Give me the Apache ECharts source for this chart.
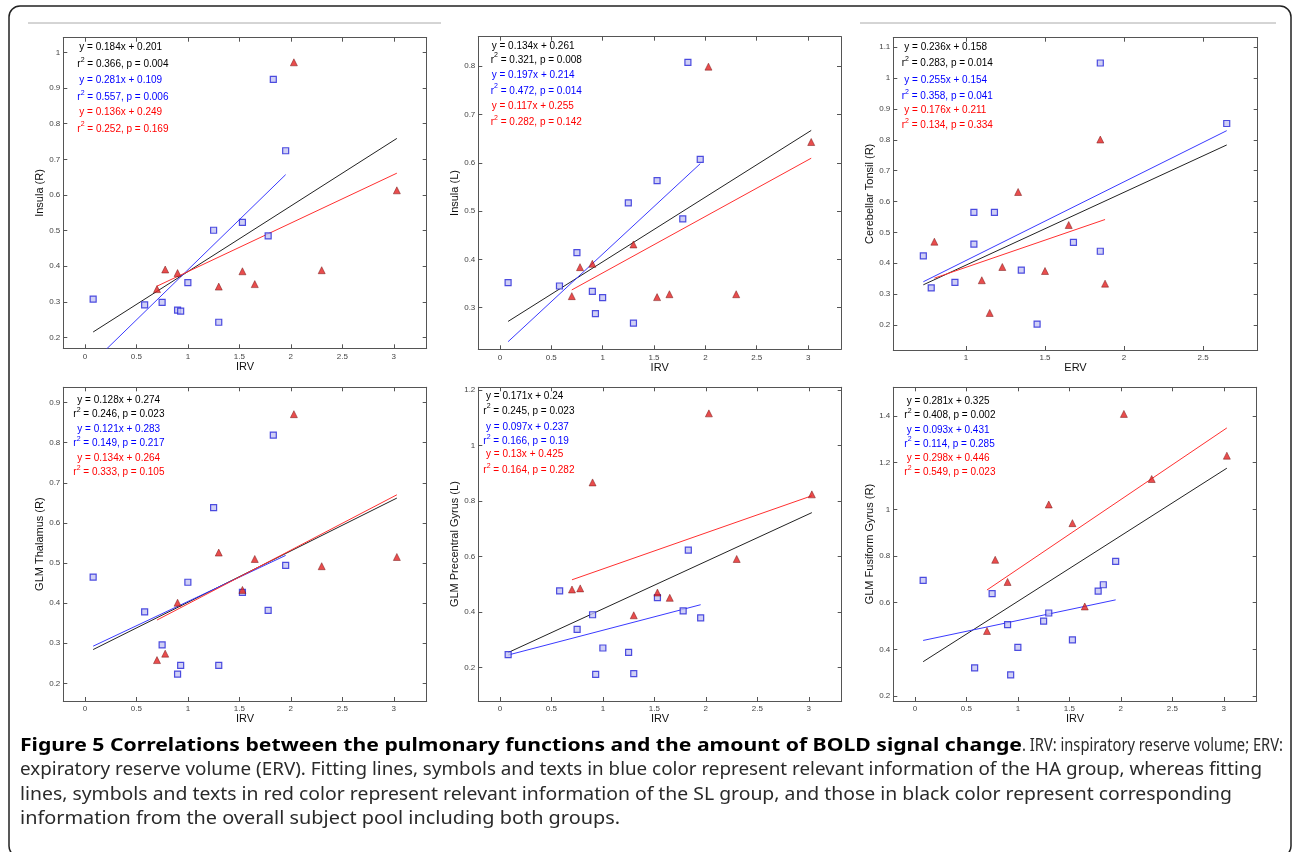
<!DOCTYPE html>
<html><head><meta charset="utf-8">
<script src="https://cdn.jsdelivr.net/npm/echarts@6/dist/echarts.min.js"></script>
<style>html,body{margin:0;padding:0;background:#fff}#c{width:1292px;height:852px}</style>
</head><body><div id="c"></div>
<script>
// ---------------- DATA ----------------
// x values (IRV / ERV) per group
const irvHA = [0.08,0.58,0.75,0.90,0.93,1.00,1.25,1.30,1.53,1.78,1.83,1.95];
const irvSL = [0.70,0.78,0.90,1.30,1.53,1.65,2.03,2.30,3.03];
const ervHA = [0.73,0.78,0.93,1.05,1.05,1.18,1.35,1.45,1.68,1.85,1.85,2.65];
const ervSL = [0.80,1.10,1.15,1.23,1.33,1.50,1.65,1.85,1.88];

// BOLD signal change per region (HA = blue squares, SL = red triangles)
const insulaR_HA = [0.308,0.292,0.299,0.277,0.274,0.354,0.501,0.243,0.523,0.485,0.924,0.724];
const insulaR_SL = [0.336,0.391,0.381,0.343,0.386,0.350,0.972,0.389,0.613];
const insulaL_HA = [0.352,0.345,0.414,0.334,0.288,0.321,0.517,0.268,0.563,0.484,0.808,0.607];
const insulaL_SL = [0.324,0.384,0.391,0.431,0.322,0.328,0.799,0.328,0.643];
const cereb_HA = [0.424,0.320,0.338,0.565,0.462,0.565,0.378,0.203,0.468,1.049,0.439,0.853];
const cereb_SL = [0.470,0.345,0.239,0.388,0.631,0.375,0.524,0.801,0.334];
const thal_HA = [0.465,0.378,0.296,0.223,0.245,0.452,0.638,0.245,0.427,0.382,0.819,0.494];
const thal_SL = [0.258,0.274,0.401,0.526,0.433,0.510,0.871,0.492,0.515];
const precen_HA = [0.246,0.476,0.337,0.390,0.175,0.270,0.254,0.178,0.452,0.404,0.623,0.379];
const precen_SL = [0.481,0.485,0.867,0.388,0.470,0.451,1.116,0.591,0.824];
const fusi_HA = [0.696,0.321,0.639,0.506,0.291,0.409,0.521,0.556,0.441,0.650,0.677,0.777];
const fusi_SL = [0.479,0.784,0.689,1.021,0.941,0.584,1.409,1.130,1.230];

// fit coefficients [slope, intercept] : all, HA, SL
const fitInsulaR = [[0.184,0.201],[0.281,0.109],[0.136,0.249]];
const fitInsulaL = [[0.134,0.261],[0.197,0.214],[0.117,0.255]];
const fitCereb   = [[0.236,0.158],[0.255,0.154],[0.176,0.211]];
const fitThal    = [[0.128,0.274],[0.121,0.283],[0.134,0.264]];
const fitPrecen  = [[0.171,0.24],[0.097,0.237],[0.13,0.425]];
const fitFusi    = [[0.281,0.325],[0.093,0.431],[0.298,0.446]];

// equation / statistics texts : all, HA, SL
const txtInsulaR = [["y = 0.184x + 0.201","0.366","0.004"],["y = 0.281x + 0.109","0.557","0.006"],["y = 0.136x + 0.249","0.252","0.169"]];
const txtInsulaL = [["y = 0.134x + 0.261","0.321","0.008"],["y = 0.197x + 0.214","0.472","0.014"],["y = 0.117x + 0.255","0.282","0.142"]];
const txtCereb   = [["y = 0.236x + 0.158","0.283","0.014"],["y = 0.255x + 0.154","0.358","0.041"],["y = 0.176x + 0.211","0.134","0.334"]];
const txtThal    = [["y = 0.128x + 0.274","0.246","0.023"],["y = 0.121x + 0.283","0.149","0.217"],["y = 0.134x + 0.264","0.333","0.105"]];
const txtPrecen  = [["y = 0.171x + 0.24","0.245","0.023"],["y = 0.097x + 0.237","0.166","0.19"],["y = 0.13x + 0.425","0.164","0.282"]];
const txtFusi    = [["y = 0.281x + 0.325","0.408","0.002"],["y = 0.093x + 0.431","0.114","0.285"],["y = 0.298x + 0.446","0.549","0.023"]];

const xNames = ["IRV","IRV","ERV","IRV","IRV","IRV"];
const yNames = ["Insula (R)","Insula (L)","Cerebellar Tonsil (R)","GLM Thalamus (R)","GLM Precentral Gyrus (L)","GLM Fusiform Gyrus (R)"];

const captionBold = "Figure 5 Correlations between the pulmonary functions and the amount of BOLD signal change";
const captionLines = [
  ". IRV: inspiratory reserve volume; ERV:",
  "expiratory reserve volume (ERV). Fitting lines, symbols and texts in blue color represent relevant information of the HA group, whereas fitting",
  "lines, symbols and texts in red color represent relevant information of the SL group, and those in black color represent corresponding",
  "information from the overall subject pool including both groups."
];

// ---------------- LAYOUT / STYLE ----------------
const panels = [
  {xHA: irvHA, yHA: insulaR_HA, xSL: irvSL, ySL: insulaR_SL, fit: fitInsulaR, txt: txtInsulaR},
  {xHA: irvHA, yHA: insulaL_HA, xSL: irvSL, ySL: insulaL_SL, fit: fitInsulaL, txt: txtInsulaL},
  {xHA: ervHA, yHA: cereb_HA, xSL: ervSL, ySL: cereb_SL, fit: fitCereb, txt: txtCereb},
  {xHA: irvHA, yHA: thal_HA, xSL: irvSL, ySL: thal_SL, fit: fitThal, txt: txtThal},
  {xHA: irvHA, yHA: precen_HA, xSL: irvSL, ySL: precen_SL, fit: fitPrecen, txt: txtPrecen},
  {xHA: irvHA, yHA: fusi_HA, xSL: irvSL, ySL: fusi_SL, fit: fitFusi, txt: txtFusi}
];
const layout = [
  {g:[63.3,37.7,363.4,310.6], xlim:[-0.21,3.32], ylim:[0.17,1.041], ys:0.1, tx:[79.3,77.3], ty:[47.7,64.3,80,97.7,112.3,129]},
  {g:[478.3,36.7,362.7,312.6], xlim:[-0.21,3.32], ylim:[0.214,0.861], ys:0.1, tx:[491.7,490.7], ty:[46.7,60,75,91,106,122.3]},
  {g:[893.3,37.7,364.4,312.3], xlim:[0.54,2.846], ylim:[0.119,1.131], ys:0.1, tx:[904.3,901.7], ty:[47.3,63.7,80.7,96.3,110.7,125.3]},
  {g:[63.3,387.3,363.4,313.7], xlim:[-0.21,3.32], ylim:[0.156,0.938], ys:0.1, tx:[77.3,73.3], ty:[400,414.7,429,443.3,458.3,472.7]},
  {g:[478.3,387.3,363.4,313.7], xlim:[-0.21,3.32], ylim:[0.079,1.21], ys:0.2, tx:[486,483.3], ty:[396,411,427,441.3,454.7,470.3]},
  {g:[893.3,387.3,363.4,313.7], xlim:[-0.21,3.32], ylim:[0.179,1.523], ys:0.2, tx:[906.7,904.3], ty:[401,415.3,430.3,444,458,472.3]}
];
const FONT = '"Liberation Sans", Arial, Helvetica, sans-serif';
const AX = '#555';
const COL = ['#000000', '#0000ff', '#ff0000'];
const LINECOL = ['#222222', '#3a3aff', '#ff3030'];

function tickFmt(step) {
  return function (v) {
    const k = v / step;
    if (Math.abs(k - Math.round(k)) > 1e-6) return '';
    return String(parseFloat(v.toFixed(3)));
  };
}

const grid = [], xAxis = [], yAxis = [], series = [], graphic = [];

panels.forEach((p, i) => {
  const L = layout[i];
  grid.push({left: L.g[0], top: L.g[1], width: L.g[2], height: L.g[3], show: false, containLabel: false});
  const xStep = 0.5;
  ['bottom', 'top'].forEach((pos, k) => {
    xAxis.push({
      type: 'value', gridIndex: i, position: pos, min: L.xlim[0], max: L.xlim[1],
      minInterval: xStep, maxInterval: xStep,
      axisLine: {show: true, onZero: false, lineStyle: {color: AX, width: 1}},
      axisTick: {show: true, inside: true, length: 4, lineStyle: {color: AX}},
      axisLabel: {show: k === 0, margin: 4, fontSize: 8, color: '#444', fontFamily: FONT, formatter: tickFmt(xStep)},
      splitLine: {show: false},
      name: k === 0 ? xNames[i] : '', nameLocation: 'middle', nameGap: 11,
      nameTextStyle: {fontSize: 11, color: '#111', fontFamily: FONT}
    });
  });
  ['left', 'right'].forEach((pos, k) => {
    yAxis.push({
      type: 'value', gridIndex: i, position: pos, min: L.ylim[0], max: L.ylim[1],
      minInterval: L.ys, maxInterval: L.ys,
      axisLine: {show: true, onZero: false, lineStyle: {color: AX, width: 1}},
      axisTick: {show: true, inside: true, length: 4, lineStyle: {color: AX}},
      axisLabel: {show: k === 0, margin: 3, fontSize: 8, color: '#444', fontFamily: FONT, formatter: tickFmt(L.ys)},
      splitLine: {show: false},
      name: k === 0 ? yNames[i] : '', nameLocation: 'middle', nameGap: 11.5, nameRotate: 90,
      nameTextStyle: {fontSize: 11, color: '#111', fontFamily: FONT}
    });
  });
  const xi = 2 * i, yi = 2 * i;
  const allX = p.xHA.concat(p.xSL);
  const ranges = [allX, p.xHA, p.xSL];
  // fitted lines (all, HA, SL)
  p.fit.forEach((f, j) => {
    const x0 = Math.min.apply(null, ranges[j]);
    const x1 = Math.max.apply(null, ranges[j]);
    series.push({
      type: 'line', xAxisIndex: xi, yAxisIndex: yi, showSymbol: false, silent: true,
      clip: true, z: 2,
      lineStyle: {color: LINECOL[j], width: 1},
      data: [[x0, f[0] * x0 + f[1]], [x1, f[0] * x1 + f[1]]]
    });
  });
  // HA squares
  series.push({
    type: 'scatter', xAxisIndex: xi, yAxisIndex: yi, symbol: 'rect', symbolSize: 6, z: 3,
    itemStyle: {color: '#c4c4f2', borderColor: '#2424d8', borderWidth: 1.2},
    data: p.xHA.map((x, k) => [x, p.yHA[k]])
  });
  // SL triangles
  series.push({
    type: 'scatter', xAxisIndex: xi, yAxisIndex: yi, symbol: 'triangle', symbolSize: 7, z: 4,
    itemStyle: {color: '#e42020', borderColor: '#701010', borderWidth: 0.6},
    data: p.xSL.map((x, k) => [x, p.ySL[k]])
  });
  // equation texts
  p.txt.forEach((t, j) => {
    graphic.push({
      type: 'text', x: L.tx[0], y: L.ty[2 * j], z: 10,
      style: {text: t[0], fill: COL[j], fontSize: 10, fontFamily: FONT, verticalAlign: 'middle', align: 'left'}
    });
    graphic.push({
      type: 'text', x: L.tx[1], y: L.ty[2 * j + 1], z: 10,
      style: {
        text: '{n|r}{s|2}{n| = ' + t[1] + ', p = ' + t[2] + '}',
        fill: COL[j], fontSize: 10, fontFamily: FONT, verticalAlign: 'middle', align: 'left',
        rich: {
          n: {fontSize: 10, fontFamily: FONT, fill: COL[j], color: COL[j], lineHeight: 16},
          s: {fontSize: 7, fontFamily: FONT, fill: COL[j], color: COL[j], lineHeight: 7, verticalAlign: 'top'}
        }
      }
    });
  });
});

// frame & separators
graphic.push({type: 'rect', z: 1, shape: {x: 9, y: 6, width: 1282, height: 851, r: 11},
  style: {fill: 'none', stroke: '#222', lineWidth: 1.5}});
graphic.push({type: 'line', z: 1, shape: {x1: 28, y1: 23, x2: 441, y2: 23}, style: {stroke: '#aaa', lineWidth: 1}});
graphic.push({type: 'line', z: 1, shape: {x1: 860, y1: 23, x2: 1276, y2: 23}, style: {stroke: '#aaa', lineWidth: 1}});

// caption (condensed look: each piece horizontally scaled to the reference extent)
const CAPFONT = '"Noto Sans", "Open Sans", "Liberation Sans", sans-serif';
const CAPSIZE = 17.5;
const capLeft = 20;
const boldRight = 1022;
const capRight = [1283, 1262, 1232, 620];
const capY = [746, 770.5, 795, 819.3];
const mctx = document.createElement('canvas').getContext('2d');
function measure(txt, bold) {
  mctx.font = (bold ? 'bold ' : '') + CAPSIZE + 'px ' + CAPFONT;
  return mctx.measureText(txt).width;
}
graphic.push({
  type: 'text', x: capLeft, y: capY[0], z: 10, scaleX: (boldRight - capLeft) / measure(captionBold, true),
  style: {text: captionBold, fontSize: CAPSIZE, fontFamily: CAPFONT, fontWeight: 'bold', fill: '#000',
    verticalAlign: 'middle', align: 'left'}
});
graphic.push({
  type: 'text', x: boldRight, y: capY[0], z: 10, scaleX: (capRight[0] - boldRight) / measure(captionLines[0], false),
  style: {text: captionLines[0], fontSize: CAPSIZE, fontFamily: CAPFONT, fill: '#2a2a2a',
    verticalAlign: 'middle', align: 'left'}
});
for (let k = 1; k < 4; k++) {
  graphic.push({type: 'text', x: capLeft, y: capY[k], z: 10,
    scaleX: (capRight[k] - capLeft) / measure(captionLines[k], false),
    style: {text: captionLines[k], fontSize: CAPSIZE, fontFamily: CAPFONT, fill: '#2a2a2a', verticalAlign: 'middle', align: 'left'}});
}

const chart = echarts.init(document.getElementById('c'), null, {renderer: 'canvas', width: 1292, height: 852});
chart.setOption({
  animation: false,
  backgroundColor: '#fff',
  grid, xAxis, yAxis, series, graphic
});
</script>
</body></html>
